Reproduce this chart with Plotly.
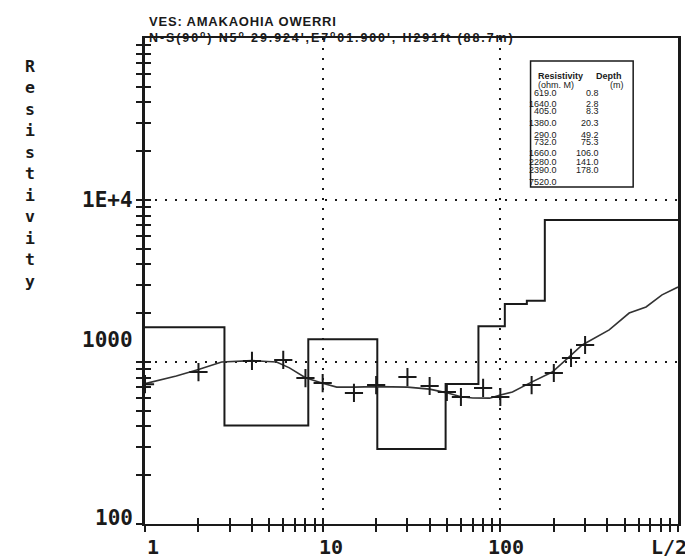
import math
import plotly.graph_objects as go

# ---------------- data ----------------
# Observed field data: half electrode spacing AB/2 (m) and apparent resistivity (ohm.m)
ab2_obs = [1, 2, 4, 6, 8, 10, 15, 20, 30, 40, 50, 60, 80, 100, 150, 200, 250, 300]
rho_obs = [730, 867, 1015, 1030, 796, 741, 644, 720, 807, 711, 653, 608, 692, 608, 720, 855, 1059, 1273]

# Computed (model) apparent resistivity curve
ab2_calc = [1, 1.5, 2, 2.7, 4, 5.5, 6.5, 8, 10, 12, 15, 20, 30, 40, 50, 60, 70, 87, 100, 117,
            146, 196, 244, 289, 410, 531, 661, 813, 1000]
rho_calc = [735, 820, 900, 1000, 1020, 1000, 920, 800, 740, 700, 700, 705, 700, 680, 645, 610,
            600, 598, 625, 653, 741, 867, 1075, 1273, 1578, 2006, 2186, 2596, 2900]

# Layered model (interpreted)
layer_rho = [619.0, 1640.0, 405.0, 1380.0, 290.0, 732.0, 1660.0, 2280.0, 2390.0, 7520.0]
layer_depth = [0.8, 2.8, 8.3, 20.3, 49.2, 75.3, 106.0, 141.0, 178.0]

x_tick_vals = [1, 10, 100, 1000]
x_tick_text = ["1", "10", "100", "L/2"]
y_tick_vals = [100, 1000, 10000]
y_tick_text = ["100", "1000", "1E+4"]

X_RANGE = (1, 1000)
Y_RANGE = (100, 100000)
SURFACE_START = 0.5  # first layer extends from the surface (off scale)

title_1 = "VES: AMAKAOHIA OWERRI"
title_2 = "N-S(90<sup>o</sup>) N5<sup>o</sup> 29.924',E7<sup>o</sup>01.900', H291ft (88.7m)"
y_title = "Resistivity"

# ---------------- layout helpers ----------------
WIN_W, WIN_H = 693, 558
OFF = 8  # default body margin of the html page
W, H = WIN_W - OFF, WIN_H - OFF
# desired plot area in window pixels
PL, PR, PT, PB = 145, 680, 38, 524
ML, MT = PL - OFF, PT - OFF
MR, MB = W - (PR - OFF), H - (PB - OFF)
PW, PH = PR - PL, PB - PT


def px(x):
    return (x - PL) / PW


def py(y):
    return (PB - y) / PH


INK = "#1a1a1a"
MONO = "DejaVu Sans Mono"
SANS = "Liberation Sans, Arial, sans-serif"
NARROW = "Liberation Sans Narrow, Liberation Sans, Arial, sans-serif"

minor_vals = []
for e in range(0, 3):
    for m in range(2, 10):
        minor_vals.append(m * 10 ** e)
y_minor_vals = []
for e in range(2, 5):
    for m in range(2, 10):
        y_minor_vals.append(m * 10 ** e)

fig = go.Figure()

# step model
step_x = [SURFACE_START] + layer_depth + [X_RANGE[1]]
step_y = layer_rho + [layer_rho[-1]]
fig.add_trace(go.Scatter(x=step_x, y=step_y, mode="lines", line=dict(color=INK, width=2, shape="hv"),
                         showlegend=False, hoverinfo="skip"))
# computed curve
fig.add_trace(go.Scatter(x=ab2_calc, y=rho_calc, mode="lines", line=dict(color="#333", width=1.6),
                         showlegend=False))
# observed points
fig.add_trace(go.Scatter(x=ab2_obs, y=rho_obs, mode="markers",
                         marker=dict(symbol="cross-thin", size=13, line=dict(color=INK, width=2)),
                         showlegend=False))
# dummy trace to activate overlay axes (inside ticks)
fig.add_trace(go.Scatter(x=[None], y=[None], xaxis="x2", yaxis="y2", showlegend=False, hoverinfo="skip"))

lx = [math.log10(v) for v in X_RANGE]
ly = [math.log10(v) for v in Y_RANGE]

common_x = dict(type="log", range=lx, tickmode="array", tickvals=x_tick_vals, showticklabels=False,
                ticklen=6, tickwidth=2, tickcolor=INK, zeroline=False, fixedrange=True)
common_y = dict(type="log", range=ly, tickmode="array", tickvals=y_tick_vals, showticklabels=False,
                ticklen=6, tickwidth=2, tickcolor=INK, zeroline=False, fixedrange=True)

fig.update_layout(
    width=W, height=H, margin=dict(l=ML, r=MR, t=MT, b=MB),
    paper_bgcolor="white", plot_bgcolor="white",
    xaxis=dict(**common_x, ticks="outside", showline=True, linewidth=2, linecolor=INK, mirror=True,
               showgrid=True, gridcolor=INK, gridwidth=2, griddash="2px,8px",
               minor=dict(tickmode="array", tickvals=minor_vals, ticks="outside", ticklen=6,
                          tickwidth=2, tickcolor=INK, showgrid=False)),
    yaxis=dict(**common_y, ticks="outside", showline=True, linewidth=3, linecolor=INK, mirror=True,
               showgrid=True, gridcolor=INK, gridwidth=2, griddash="2px,8px",
               minor=dict(tickmode="array", tickvals=y_minor_vals, ticks="outside", ticklen=6,
                          tickwidth=2, tickcolor=INK, showgrid=False)),
    xaxis2=dict(**common_x, overlaying="x", anchor="y", side="bottom", ticks="inside", showline=False,
                showgrid=False,
                minor=dict(tickmode="array", tickvals=minor_vals, ticks="inside", ticklen=6,
                           tickwidth=2, tickcolor=INK, showgrid=False)),
    yaxis2=dict(**common_y, overlaying="y", anchor="x", side="left", ticks="inside", showline=False,
                showgrid=False,
                minor=dict(tickmode="array", tickvals=y_minor_vals, ticks="inside", ticklen=6,
                           tickwidth=2, tickcolor=INK, showgrid=False)),
)

ann = []
# tick labels (offsets mimic the original printout)
x_shifts = [8, 8, 6, 0]
for v, t, s in zip(x_tick_vals, x_tick_text, x_shifts):
    a = dict(x=math.log10(v), xref="x", y=0, yref="paper", yanchor="top", yshift=-9, xshift=s,
             text=t, showarrow=False, font=dict(family=MONO, size=20, color=INK, weight="bold"))
    if t == "L/2":
        a.update(xanchor="right", xshift=11)
    ann.append(a)
y_shifts = [6, 22, 0]
for v, t, s in zip(y_tick_vals, y_tick_text, y_shifts):
    ann.append(dict(x=px(135), xref="paper", xanchor="right", y=math.log10(v), yref="y", yshift=s,
                    text=t, showarrow=False, font=dict(family=MONO, size=21, color=INK, weight="bold")))
# vertical stacked y title (one letter per line)
ann.append(dict(x=px(23), xref="paper", y=py(174), yref="paper", yanchor="middle",
                text="<br>".join(list(y_title)), showarrow=False,
                font=dict(family=MONO, size=16.5, color=INK, weight="bold")))
# title
ann.append(dict(x=px(147), xref="paper", xanchor="left", y=py(12), yref="paper",
                text='<span style="letter-spacing:0.8px">' + title_1 + '</span>',
                showarrow=False, font=dict(family=SANS, size=13, color=INK, weight="bold")))
ann.append(dict(x=px(147), xref="paper", xanchor="left", y=py(27), yref="paper",
                text='<span style="letter-spacing:1.9px">' + title_2 + '</span>',
                showarrow=False, font=dict(family=SANS, size=12.5, color=INK, weight="bold")))

# model table
tf = dict(family=NARROW, size=9, color=INK)
ann.append(dict(x=px(537), xref="paper", xanchor="left", y=py(69), yref="paper", text="<b>Resistivity</b>",
                showarrow=False, font=tf))
ann.append(dict(x=px(596), xref="paper", xanchor="left", y=py(69), yref="paper", text="<b>Depth</b>",
                showarrow=False, font=tf))
ann.append(dict(x=px(537), xref="paper", xanchor="left", y=py(78), yref="paper", text="(ohm. M)",
                showarrow=False, font=tf))
ann.append(dict(x=px(628), xref="paper", xanchor="right", y=py(78), yref="paper", text="(m)",
                showarrow=False, font=tf))
row_y = [86, 97, 104, 116, 128, 135, 146, 155, 163, 175]
for i, r in enumerate(layer_rho):
    ann.append(dict(x=px(561), xref="paper", xanchor="right", y=py(row_y[i]), yref="paper",
                    text="%.1f" % r, showarrow=False, font=tf))
    if i < len(layer_depth):
        ann.append(dict(x=px(603), xref="paper", xanchor="right", y=py(row_y[i]), yref="paper",
                        text="%.1f" % layer_depth[i], showarrow=False, font=tf))

fig.update_layout(annotations=ann)
fig.add_shape(type="rect", xref="paper", yref="paper", x0=px(532), x1=px(635), y0=py(187), y1=py(61),
              line=dict(color=INK, width=1.5), fillcolor="white", layer="above")

fig.write_html("out.html")
